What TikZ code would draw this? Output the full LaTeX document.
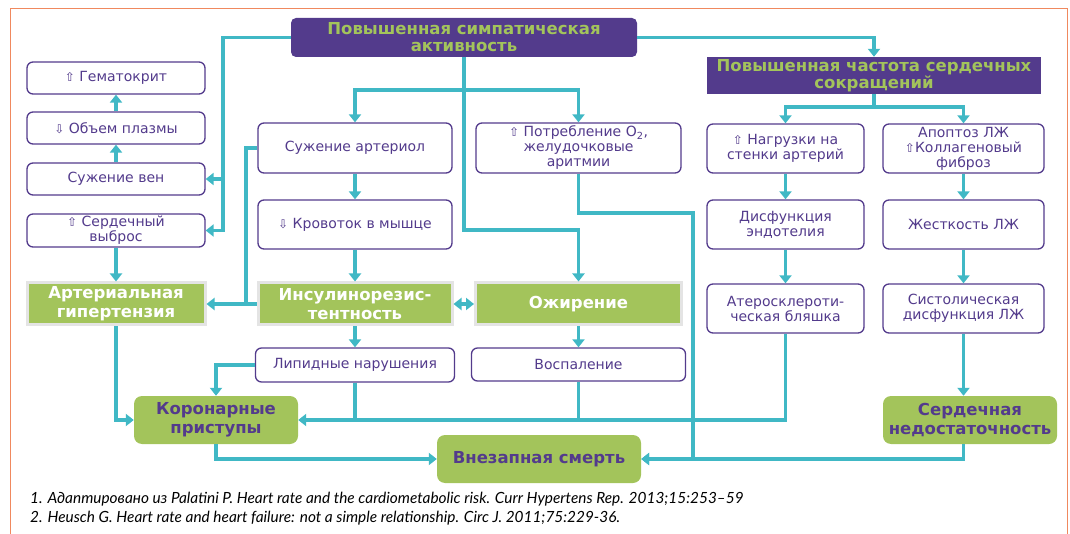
\documentclass[tikz,border=0pt]{standalone}
\usepackage{fontspec}
\setmainfont{DejaVu Sans}
\newfontfamily\notefont{Lato}
\usetikzlibrary{arrows.meta}
\definecolor{cvio}{HTML}{533B8C}
\definecolor{cteal}{HTML}{40B8C5}
\definecolor{cgreen}{HTML}{A3C45B}
\definecolor{cgrey}{HTML}{E4E4E4}
\definecolor{cframe}{HTML}{F0895E}
\newcommand\arrup{{\fontsize{12}{12}\selectfont ⇧}}
\newcommand\arrdn{{\fontsize{12}{12}\selectfont ⇩}}
\tikzset{
  tip/.tip={Triangle[length=8pt,width=12pt]},
  box/.style n args={2}{draw=cvio, line width=1.3pt, rounded corners=6pt, fill=white,
    text=cvio, align=center, inner sep=0pt, minimum width=#1, minimum height=#2,
    font=\fontsize{14}{15}\selectfont},
  hot/.style n args={2}{draw=cgrey, line width=3pt, fill=cgreen, text=white,
    align=center, inner sep=0pt, minimum width=#1, minimum height=#2,
    font=\bfseries\fontsize{16.5}{19}\selectfont},
  res/.style n args={2}{fill=cgreen, rounded corners=8pt, text=cvio,
    align=center, inner sep=0pt, minimum width=#1, minimum height=#2,
    font=\bfseries\fontsize{16.5}{19}\selectfont},
  head/.style n args={2}{fill=cvio, text=cgreen,
    align=center, inner sep=0pt, minimum width=#1, minimum height=#2,
    font=\bfseries\fontsize{16.5}{17}\selectfont},
  link/.style={draw=cteal, line width=3.5pt},
  arr/.style={link, -tip},
  note/.style={anchor=west, inner sep=0pt, text=black,
    font=\notefont\itshape\fontsize{15.4}{16}\selectfont}
}
\begin{document}
\begin{tikzpicture}[x=1pt,y=-1pt]
\useasboundingbox (0,0) rectangle (1070,534);
\draw[cframe, line width=1.5pt] (10.5,534) -- (10.5,8.5) -- (1067.5,8.5) -- (1067.5,534);

\node (symp) at (464,37.5) [head={346}{39}, rounded corners=5pt]{Повышенная симпатическая\\активность};
\node (hr) at (874,75.5) [head={334}{37}]{Повышенная частота сердечных\\сокращений};
\node (hct) at (116,78) [box={178}{32}]{\arrup\ Гематокрит};
\node (plasma) at (116,128) [box={178}{32}]{\arrdn\ Объем плазмы};
\node (veins) at (116,179) [box={178}{32}]{Сужение вен};
\node (co) at (116,230.5) [box={178}{33}]{\arrup\ Сердечный\\выброс};
\node (ah) at (116,304) [hot={178}{42}]{Артериальная\\гипертензия};
\node (art) at (355,148) [box={194}{50}]{Сужение артериол};
\node (flow) at (355,224.5) [box={194}{49}]{\arrdn\ Кровоток в мышце};
\node (o2) at (578.5,148) [box={205}{50}]{\arrup\ Потребление O\textsubscript{2},\\желудочковые\\аритмии};
\node (ir) at (355,304) [hot={194}{42}]{Инсулинорезис-\\тентность};
\node (ob) at (578.5,304) [hot={206}{42}]{Ожирение};
\node (lip) at (355,365) [box={199}{34}]{Липидные нарушения};
\node (infl) at (578.5,364.5) [box={214}{33}]{Воспаление};
\node (cor) at (216,420) [res={164}{48}]{Коронарные\\приступы};
\node (sd) at (539,459) [res={204}{48}]{Внезапная смерть};
\node (load) at (785.5,148.5) [box={157}{49}]{\arrup\ Нагрузки на\\стенки артерий};
\node (apo) at (963.5,148.5) [box={161}{49}]{Апоптоз ЛЖ\\\arrup Коллагеновый\\фиброз};
\node (endo) at (785.5,224.5) [box={157}{49}]{Дисфункция\\эндотелия};
\node (stiff) at (963.5,224.5) [box={161}{49}]{Жесткость ЛЖ};
\node (plaque) at (785.5,308.5) [box={157}{49}]{Атеросклероти-\\ческая бляшка};
\node (sys) at (963.5,308.5) [box={161}{49}]{Систолическая\\дисфункция ЛЖ};
\node (hf) at (970,420) [res={174}{48}]{Сердечная\\недостаточность};

\coordinate (ls) at (223,0);
\coordinate (lv) at (246,0);
\coordinate (sb) at (464,90);
\coordinate (mid) at (0,230);
\coordinate (rv) at (693,213);
\coordinate (hb) at (874,107);

\draw[arr] (symp.west) -| (ls |- co.east) -- (co.east);
\draw[arr] (ls |- veins.east) -- (veins.east);
\draw[arr] (symp.east) -| (hr.north);
\draw[arr] (plasma) -- (hct);
\draw[arr] (veins) -- (plasma);
\draw[arr] (co) -- (ah);
\draw[link] (symp.south) -- (sb);
\draw[arr] (sb) -| (art.north);
\draw[arr] (sb) -| (o2.north);
\draw[arr] (sb) |- (ob.north |- mid) -- (ob.north);
\draw[arr] (art) -- (flow);
\draw[arr] (flow) -- (ir);
\draw[link] (art.west) -| (lv |- ah.east);
\draw[arr] (ir) -- (ah);
\draw[link, tip-tip] (ir) -- (ob);
\draw[arr] (ir) -- (lip);
\draw[arr] (ob) -- (infl);
\draw[arr] (lip.west) -| (cor.north);
\draw[arr] (ah.south) |- (cor.west);
\draw[arr] (plaque.south) |- (cor.east);
\draw[link] (lip.south) -- (lip.south |- cor.east);
\draw[link] (infl.south) -- (infl.south |- cor.east);
\draw[arr] (cor.south) |- (sd.west);
\draw[arr] (o2.south) |- (rv) |- (sd.east);
\draw[arr] (sys) -- (sys |- hf.north);
\draw[arr] (sys |- hf.south) |- (sd.east);
\draw[link] (hr.south) -- (hb);
\draw[arr] (hb) -| (load.north);
\draw[arr] (hb) -| (apo.north);
\draw[arr] (load) -- (endo);
\draw[arr] (endo) -- (plaque);
\draw[arr] (apo) -- (stiff);
\draw[arr] (stiff) -- (sys);

\node (fn1) at (30,499) [note]{1. Адаптировано из Palatini P. Heart rate and the cardiometabolic risk. Curr Hypertens Rep. 2013;15:253–59};
\node (fn2) at (30,518) [note]{2. Heusch G. Heart rate and heart failure: not a simple relationship. Circ J. 2011;75:229-36.};
\end{tikzpicture}
\end{document}
